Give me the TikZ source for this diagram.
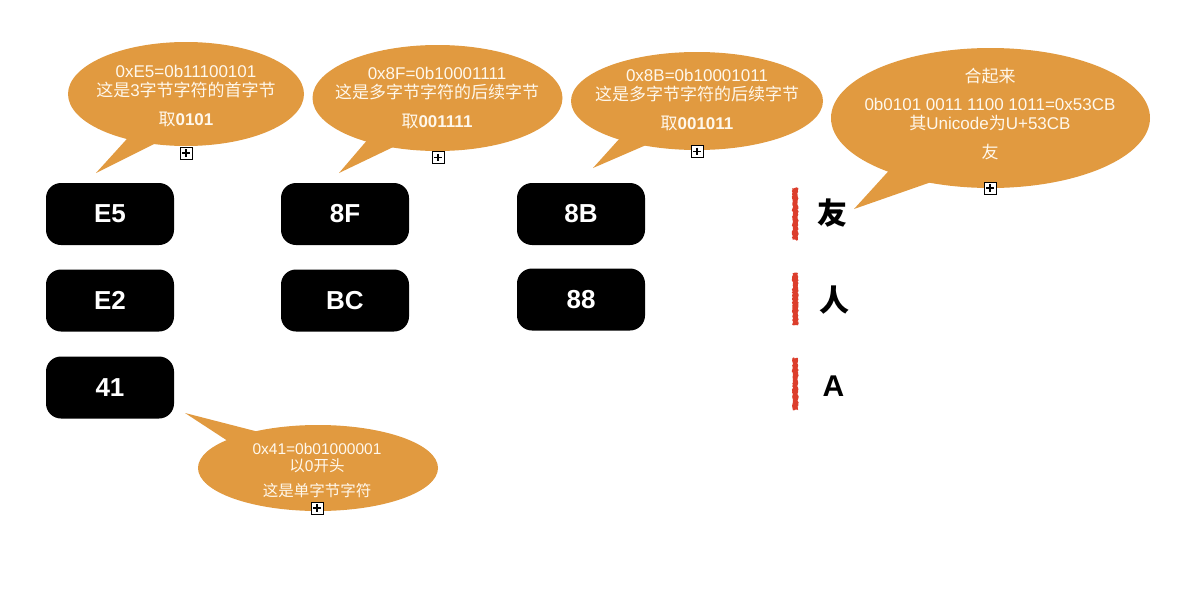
\documentclass[tikz,border=0pt]{standalone}
\usepackage{fontspec}
\setmainfont{Liberation Sans}
\newfontfamily\cjk{Noto Sans CJK SC}
\usetikzlibrary{shapes.geometric,decorations.pathmorphing}
\definecolor{bubble}{RGB}{225,154,64}
\definecolor{bubtext}{RGB}{255,248,236}
\definecolor{crayon}{RGB}{220,62,44}
\newcommand\zh[1]{{\cjk #1}}
\tikzset{
  bytebox/.style={fill=black, rounded corners=15pt, minimum width=128pt, minimum height=62pt, inner sep=0pt,
    text=white, font=\fontsize{26}{28}\selectfont\bfseries},
  bubbleshape/.style={ellipse, fill=bubble, inner sep=0pt},
  bubbletext/.style={text=bubtext, align=center, inner sep=0pt, font=\fontsize{17}{19}\selectfont},
  plusbox/.style={draw=black, fill=white, line width=0.9pt, minimum size=12pt, inner sep=0pt,
    path picture={
      \draw[line width=1.1pt] ([yshift=-2.2pt]path picture bounding box.north) -- ([yshift=2.2pt]path picture bounding box.south);
      \draw[line width=1.1pt] ([xshift=2.2pt]path picture bounding box.west) -- ([xshift=-2.2pt]path picture bounding box.east);}},
  crayonbar/.style={fill=crayon, decorate, decoration={random steps, segment length=1.5pt, amplitude=0.7pt}},
  bigchar/.style={text=black, inner sep=0pt, font=\fontsize{30}{32}\selectfont\bfseries}
}
\begin{document}
\begin{tikzpicture}[x=1pt,y=-1pt]
\useasboundingbox (0,0) rectangle (1200,589);
\fill[white] (0,0) rectangle (1200,589);

% byte boxes
\node[bytebox] (e5) at (110,214) {E5};
\node[bytebox] (e2) at (110,300.5) {E2};
\node[bytebox] (a41) at (110,387.5) {41};
\node[bytebox] (x8f) at (345,214) {8F};
\node[bytebox] (xbc) at (345,300.5) {BC};
\node[bytebox] (x8b) at (581,214) {8B};
\node[bytebox] (x88) at (581,299.5) {88};

% bubble 1
\node[bubbleshape, minimum width=236pt, minimum height=104pt] (b1) at (186,94) {};
\fill[bubble] (96,173) -- (135,130) -- (170,136) -- cycle;
\node[bubbletext] (t1) at (186,96) {0xE5=0b11100101\\\zh{这是}3\zh{字节字符的首字节}\\[10pt]\zh{取}\textbf{0101}};
\node[plusbox] (p1) at (186,153) {};

% bubble 2
\node[bubbleshape, minimum width=250pt, minimum height=106pt] (b2) at (437.5,98) {};
\fill[bubble] (339,173) -- (375,131) -- (410,139) -- cycle;
\node[bubbletext] (t2) at (437,98.5) {0x8F=0b10001111\\\zh{这是多字节字符的后续字节}\\[10pt]\zh{取}\textbf{001111}};
\node[plusbox] (p2) at (438,157.5) {};

% bubble 3
\node[bubbleshape, minimum width=252pt, minimum height=98pt] (b3) at (697,101) {};
\fill[bubble] (593,168) -- (630,127) -- (660,139) -- cycle;
\node[bubbletext] (t3) at (697,100.5) {0x8B=0b10001011\\\zh{这是多字节字符的后续字节}\\[10pt]\zh{取}\textbf{001011}};
\node[plusbox] (p3) at (697,151.5) {};

% bubble 4
\node[bubbleshape, minimum width=319pt, minimum height=140pt] (b4) at (990.5,118) {};
\fill[bubble] (854,209) -- (905,153) -- (960,172) -- cycle;
\node[bubbletext] (t4) at (990,114) {\zh{合起来}\\[9pt]0b0101 0011 1100 1011=0x53CB\\\zh{其}Unicode\zh{为}U+53CB\\[10pt]\zh{友}};
\node[plusbox] (p4) at (990,188) {};

% bubble 5
\node[bubbleshape, minimum width=240pt, minimum height=86pt] (b5) at (318,468) {};
\fill[bubble] (185,413) -- (290,440) -- (260,462) -- cycle;
\node[bubbletext, font=\fontsize{15.5}{16.5}\selectfont] (t5) at (317,471) {0x41=0b01000001\\\zh{以}0\zh{开头}\\[9pt]\zh{这是单字节字符}};
\node[plusbox] (p5) at (317,508) {};

% right column
\fill[crayonbar] (792.5,188) rectangle (798,240);
\fill[crayonbar] (792.5,273) rectangle (798,325);
\fill[crayonbar] (792.5,358) rectangle (798,410);
\node[bigchar] (c1) at (832,213) {\cjk 友};
\node[bigchar] (c2) at (834,300) {\cjk 人};
\node[bigchar] (c3) at (833.5,386) {A};
\end{tikzpicture}
\end{document}
